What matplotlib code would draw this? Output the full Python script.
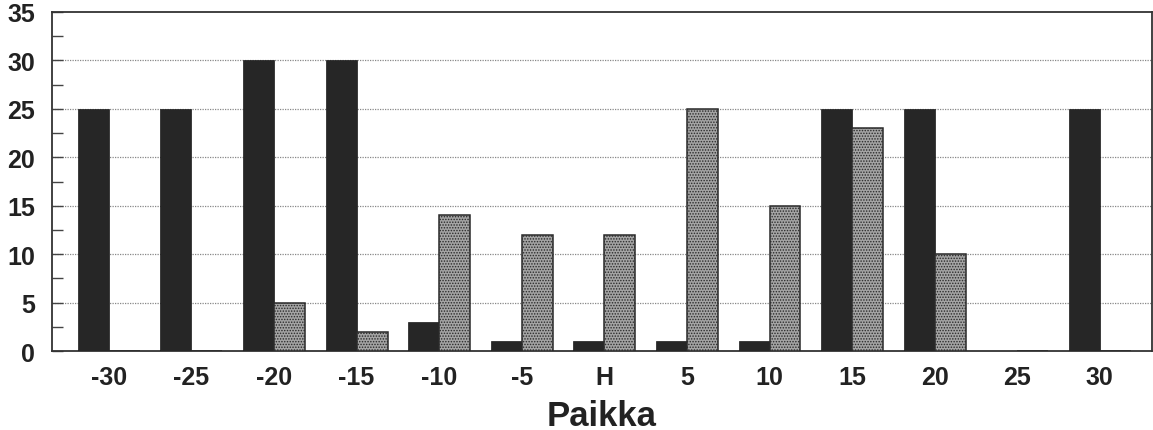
import matplotlib.pyplot as plt
import numpy as np
from matplotlib.ticker import MultipleLocator

plt.rcParams["font.family"] = ["Liberation Sans", "DejaVu Sans"]
plt.rcParams["hatch.linewidth"] = 0.7

categories = ["-30", "-25", "-20", "-15", "-10", "-5", "H", "5", "10", "15", "20", "25", "30"]
dark_values = [25, 25, 30, 30, 3, 1, 1, 1, 1, 25, 25, 0, 25]
grey_values = [0, 0, 5, 2, 14, 12, 12, 25, 15, 23, 10, 0, 0]

x = np.arange(len(categories))
width = 0.375

fig = plt.figure(figsize=(11.53, 4.31), dpi=100)
ax = fig.add_axes([0.045, 0.183, 0.954, 0.787])

ax.bar(x - width / 2, dark_values, width, color="#262626", edgecolor="#1a1a1a",
       linewidth=0.5, zorder=3)
ax.bar(x + width / 2, grey_values, width, color="#a4a4a4", edgecolor="#2a2a2a",
       hatch="......", linewidth=1.1, zorder=3)

ax.set_xlim(-0.69, len(categories) - 1 + 0.63)
ax.set_ylim(0, 35)
ax.yaxis.set_major_locator(MultipleLocator(5))
ax.yaxis.set_minor_locator(MultipleLocator(2.5))

ax.set_xticks(x)
ax.set_xticklabels(categories)
ax.tick_params(axis="x", length=0, pad=10, labelsize=18)
ax.tick_params(axis="y", which="both", direction="in", length=8, width=1,
               color="#444444", pad=12, labelsize=18)
for lbl in ax.get_xticklabels() + ax.get_yticklabels():
    lbl.set_fontweight("bold")
    lbl.set_color("#222222")

for y in range(5, 35, 5):
    ax.axhline(y, color="#888888", linestyle=(0, (1, 1)), linewidth=0.9, zorder=1)

for side in ("top", "bottom", "left", "right"):
    ax.spines[side].set_color("#333333")
    ax.spines[side].set_linewidth(1.3)

ax.set_xlabel("Paikka", fontsize=25, fontweight="bold", color="#222222", labelpad=7)

fig.savefig("out.png", dpi=100)
